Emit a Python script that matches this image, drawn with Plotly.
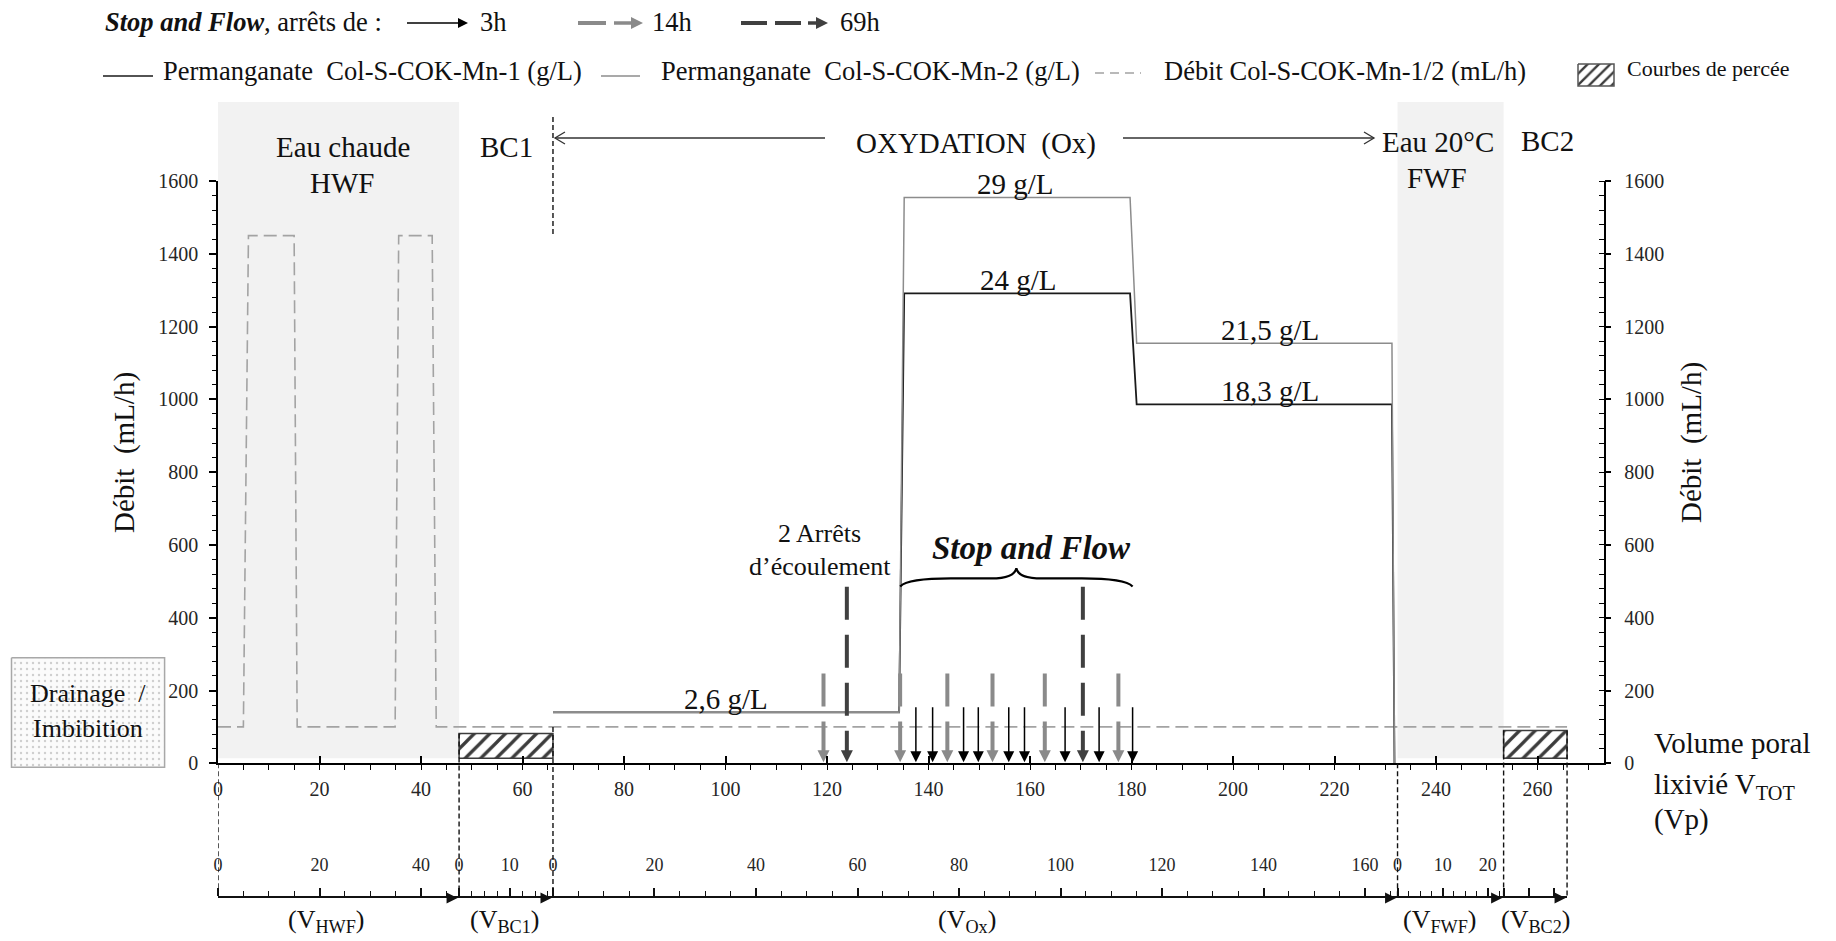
import plotly.graph_objects as go

W, H = 1836, 941
FONT = "Liberation Serif"
SP2 = "\u2002"   # wide space

# ---------------- data ----------------
phase_names = ["HWF", "BC1", "Ox", "FWF", "BC2"]
phase_bounds = [0.0, 47.5, 66.0, 232.4, 253.3, 265.8]      # V_TOT (Vp)
phase_axis_len = [47.5, 18.5, 166.4, 23.5, 12.5]            # length of each sub-axis (Vp)
phase_dtick = [20, 10, 20, 10, 5]
phase_minor = [5, 2.5, 5, 2.5, None]
phase_show_labels = [True, True, True, True, False]

flow_x = [0, 5.0, 6.0, 15.0, 15.6, 34.9, 35.6, 42.2, 43.0, 265.8]
flow_y = [100, 100, 1450, 1450, 100, 100, 1450, 1450, 100, 100]

mn1_x = [66.0, 134.2, 135.2, 179.7, 181.0, 231.3, 231.8]
mn1_y = [140, 140, 1291, 1291, 986, 986, 0]
mn2_x = [66.0, 134.2, 135.2, 179.7, 181.0, 231.3, 231.8]
mn2_y = [140, 140, 1555, 1555, 1154, 1154, 0]

conc_labels = ["2,6 g/L", "29 g/L", "24 g/L", "21,5 g/L", "18,3 g/L"]
conc_label_x = [100.1, 157.2, 157.7, 207.3, 207.3]
conc_label_y = [140, 1555, 1291, 1154, 986]

stops_3h = [137.5, 140.8, 146.9, 149.8, 155.8, 158.9, 166.9, 173.6, 180.2]
stops_14h = [119.3, 134.4, 143.7, 152.6, 162.9, 177.4]
stops_69h = [123.9, 170.4]

percee_bottom = 14
percee_top = [82, 90]          # BC1, BC2
shade_bottom = 14

# ---------------- geometry ----------------
X0_PX, X1_PX, XMAX = 218.0, 1603.6, 273.0
Y0_PX, Y1_PX, YMAX = 763.3, 181.0, 1600.0
KX = (X1_PX - X0_PX) / XMAX
KY = (Y0_PX - Y1_PX) / YMAX


def X(v):
    return X0_PX + v * KX


def Y(v):
    return Y0_PX - v * KY


def PX(px):
    return px / W


def PY(py):
    return (H - py) / H


fig = go.Figure()

# ---------------- shaded phases (HWF, FWF) ----------------
for i in (0, 3):
    fig.add_shape(type="rect", xref="x", yref="paper",
                  x0=phase_bounds[i], x1=phase_bounds[i + 1],
                  y0=PY(Y(shade_bottom)), y1=PY(102),
                  fillcolor="#f2f2f2", line_width=0, layer="below")

# ---------------- flow (dashed) ----------------
fig.add_trace(go.Scatter(x=flow_x, y=flow_y, mode="lines",
                         line=dict(color="#a3a3a3", width=1.6, dash="13px,6px"),
                         hoverinfo="skip", showlegend=False))

# ---------------- breakthrough (hatched) ----------------
for k, i in enumerate((1, 4)):
    a, b = phase_bounds[i], phase_bounds[i + 1]
    top = percee_top[k]
    fig.add_trace(go.Scatter(x=[a, b, b, a, a], y=[percee_bottom, percee_bottom, top, top, percee_bottom],
                             mode="lines", fill="toself", fillcolor="white",
                             fillpattern=dict(shape="/", fgcolor="#3c3c3c", bgcolor="white",
                                              size=11, solidity=0.3),
                             line=dict(color="#3c3c3c", width=1.5),
                             hoverinfo="skip", showlegend=False))

# ---------------- permanganate lines ----------------
fig.add_trace(go.Scatter(x=mn1_x, y=mn1_y, mode="lines",
                         line=dict(color="#1a1a1a", width=1.8), hoverinfo="skip", showlegend=False))
fig.add_trace(go.Scatter(x=mn2_x, y=mn2_y, mode="lines",
                         line=dict(color="#8c8c8c", width=1.5), hoverinfo="skip", showlegend=False))

# ---------------- stop arrows ----------------
def stop_arrows(xs, top, color, width, dash, hsize):
    shaft_end = (hsize - 2) / KY
    sx, sy = [], []
    for v in xs:
        sx += [v, v, None]
        sy += [top, shaft_end, None]
    fig.add_trace(go.Scatter(x=sx, y=sy, mode="lines",
                             line=dict(color=color, width=width, dash=dash),
                             hoverinfo="skip", showlegend=False))
    fig.add_trace(go.Scatter(x=xs, y=[1.0 / KY] * len(xs), mode="markers", cliponaxis=False,
                             marker=dict(symbol="arrow-down", size=hsize, color=color,
                                         line=dict(width=0)),
                             hoverinfo="skip", showlegend=False))


stop_arrows(stops_14h, 247, "#8a8a8a", 4, "33px,15px", 12)
stop_arrows(stops_69h, 485, "#404040", 4, "33px,15px", 12)
stop_arrows(stops_3h, 154, "#000000", 1.5, "solid", 11)

# ---------------- brace over Stop and Flow ----------------
b0, b1 = min(stops_14h[1:] + stops_3h), max(stops_3h)
bm = (b0 + b1) / 2
yb, yh, yp = 486, 508, 536
brace = (f"M {b0},{yb} Q {b0 + 1.5},{yh} {b0 + 10},{yh} L {bm - 5},{yh} "
         f"Q {bm - 0.4},{yh} {bm},{yp} Q {bm + 0.4},{yh} {bm + 5},{yh} "
         f"L {b1 - 10},{yh} Q {b1 - 1.5},{yh} {b1},{yb}")
fig.add_shape(type="path", xref="x", yref="y", path=brace,
              line=dict(color="black", width=2.2))

# ---------------- concentration labels ----------------
for s, xv, yv in zip(conc_labels, conc_label_x, conc_label_y):
    fig.add_annotation(x=xv, y=yv, xref="x", yref="y", text=s, showarrow=False,
                       yanchor="middle", yshift=13,
                       font=dict(family=FONT, size=29, color="#111"))

# ---------------- vertical dashed phase boundaries ----------------
line_start = [0, percee_top[0], 100, 0, percee_top[1], percee_top[1]]
for bx, st in zip(phase_bounds, line_start):
    fig.add_shape(type="line", xref="x", yref="paper", x0=bx, x1=bx,
                  y0=PY(Y(st)), y1=PY(898),
                  line=dict(color="#111", width=1.4, dash="5px,3px"))
# dashed line marking the start of oxidation (above the plot)
fig.add_shape(type="line", xref="x", yref="paper", x0=phase_bounds[2], x1=phase_bounds[2],
              y0=PY(234), y1=PY(117), line=dict(color="#111", width=1.4, dash="5px,3px"))

# ---------------- dummy traces for extra axes ----------------
fig.add_trace(go.Scatter(x=[None], y=[None], xaxis="x", yaxis="y2", showlegend=False, hoverinfo="skip"))
for j in range(5):
    fig.add_trace(go.Scatter(x=[None], y=[None], xaxis=f"x{j + 2}", yaxis="y3",
                             showlegend=False, hoverinfo="skip"))

# ---------------- overlay (pixel) subplot: legend, boxes, arrows ----------------
OX, OY = "x7", "y4"


def ov_trace(**kw):
    kw.setdefault("hoverinfo", "skip")
    kw.setdefault("showlegend", False)
    fig.add_trace(go.Scatter(xaxis=OX, yaxis=OY, **kw))


def txt(x, y, s, size=29, xanchor="center", **kw):
    fig.add_annotation(x=x, y=y, xref=OX, yref=OY, text=s, showarrow=False,
                       xanchor=xanchor, yanchor="middle",
                       font=dict(family=FONT, size=size, color="#111"), **kw)


def filled_arrow(x0, x1, y, color, width, hsize, dash="solid"):
    """horizontal arrow pointing right, tip at x1"""
    ov_trace(x=[x0, x1 - hsize + 2], y=[y, y], mode="lines",
             line=dict(color=color, width=width, dash=dash))
    ov_trace(x=[x1], y=[y], mode="markers",
             marker=dict(symbol="arrow-right", size=hsize, color=color, line=dict(width=0)))


def open_arrow(x0, x1, y, color="#333", width=1.3, hl=10, hw=6):
    d = 1 if x1 > x0 else -1
    ov_trace(x=[x0, x1, None, x1 - d * hl, x1, x1 - d * hl],
             y=[y, y, None, y - hw, y, y + hw], mode="lines",
             line=dict(color=color, width=width))


# Drainage / Imbibition box
ov_trace(x=[11.5, 164.6, 164.6, 11.5, 11.5], y=[657.7, 657.7, 767.3, 767.3, 657.7],
         mode="lines", fill="toself", fillcolor="#fbfbfb",
         fillpattern=dict(shape=".", fgcolor="#cfcfcf", bgcolor="#fbfbfb", size=6, solidity=0.12),
         line=dict(color="#a8a8a8", width=1.5))
txt(88, 693, "Drainage" + SP2 + "/", size=26)
txt(88, 728, "Imbibition", size=26)

# legend row 1
LEG = 26.5
txt(103, 22, "<b><i>Stop and Flow</i></b>, arrêts de :", size=LEG, xanchor="left")
filled_arrow(407, 468, 23, "#000", 1.3, 10)
txt(478, 22, "3h", size=LEG, xanchor="left")
ov_trace(x=[578, 606], y=[23, 23], mode="lines", line=dict(color="#8a8a8a", width=4))
filled_arrow(614, 643, 23, "#8a8a8a", 3.5, 12)
txt(650, 22, "14h", size=LEG, xanchor="left")
ov_trace(x=[741, 767, None, 775, 801], y=[23, 23, None, 23, 23], mode="lines",
         line=dict(color="#404040", width=4))
filled_arrow(808, 828, 23, "#404040", 3.5, 12)
txt(838, 22, "69h", size=LEG, xanchor="left")

# legend row 2
ov_trace(x=[103, 153], y=[76, 76], mode="lines", line=dict(color="#1a1a1a", width=1.6))
txt(161, 71, "Permanganate" + SP2 + "Col-S-COK-Mn-1 (g/L)", size=LEG, xanchor="left")
ov_trace(x=[601, 640], y=[76, 76], mode="lines", line=dict(color="#8c8c8c", width=1.4))
txt(659, 71, "Permanganate" + SP2 + "Col-S-COK-Mn-2 (g/L)", size=LEG, xanchor="left")
ov_trace(x=[1095, 1141], y=[73, 73], mode="lines", line=dict(color="#a3a3a3", width=1.5, dash="9px,6px"))
txt(1162, 71, "Débit Col-S-COK-Mn-1/2 (mL/h)", size=LEG, xanchor="left")
ov_trace(x=[1578, 1614, 1614, 1578, 1578], y=[64, 64, 86, 86, 64], mode="lines",
         fill="toself", fillcolor="white",
         fillpattern=dict(shape="/", fgcolor="#3c3c3c", bgcolor="white", size=8, solidity=0.3),
         line=dict(color="#555", width=1.5))
txt(1625, 68, "Courbes de percée", size=22, xanchor="left")

# phase titles
txt(343, 147, "Eau chaude")
txt(342, 183, "HWF")
txt(506, 147, "BC1")
txt(976, 143, "OXYDATION" + SP2 + "(Ox)")
open_arrow(825, X(phase_bounds[2]) + 2, 138)
open_arrow(1123, 1374, 138)
txt(1438, 142, "Eau 20°C")
txt(1437, 178, "FWF")
txt(1547, 141, "BC2")

# flow annotations
txt(819, 533, "2 Arrêts", size=26)
txt(820, 566, "d’écoulement", size=26)
txt(1031, 548, "<b><i>Stop and Flow</i></b>", size=33)

# axis titles
txt(124, 453, "Débit" + SP2 + "(mL/h)", size=29, textangle=-90)
txt(1691, 443, "Débit" + SP2 + "(mL/h)", size=29, textangle=-90)
txt(1652, 743, "Volume poral", size=29, xanchor="left")
txt(1652, 786, "lixivié V<sub>TOT</sub>", size=29, xanchor="left")
txt(1652, 819, "(Vp)", size=29, xanchor="left")

# sub-axis names
for s, cx in zip(["(V<sub>HWF</sub>)", "(V<sub>BC1</sub>)", "(V<sub>Ox</sub>)",
                  "(V<sub>FWF</sub>)", "(V<sub>BC2</sub>)"],
                 [326, 504, 967, 1440, 1535]):
    txt(cx, 921, s, size=26)

# arrowheads at the end of each sub-axis
tips = [X(phase_bounds[i + 1]) - 1.5 for i in range(5)]
ov_trace(x=tips, y=[898] * 5, mode="markers",
         marker=dict(symbol="arrow-right", size=11, color="#111", line=dict(width=0)))

# ---------------- layout ----------------
tickfont = dict(family=FONT, size=20, color="#262626")
layout = dict(
    template="none",
    width=W, height=H, autosize=False,
    margin=dict(l=0, r=0, t=0, b=0, pad=0, autoexpand=False),
    paper_bgcolor="white", plot_bgcolor="rgba(0,0,0,0)",
    showlegend=False,
    xaxis=dict(domain=[PX(X0_PX), PX(X1_PX)], range=[0, XMAX], anchor="y",
               showline=True, linecolor="black", linewidth=1.5,
               ticks="inside", ticklen=8, tickwidth=1.5, tickcolor="black",
               tickmode="linear", tick0=0, dtick=20,
               minor=dict(dtick=5, ticks="outside", ticklen=5, tickwidth=1, tickcolor="black"),
               showgrid=False, zeroline=False, tickfont=tickfont,
               ticklabelstandoff=7, automargin=False, fixedrange=True),
    yaxis=dict(domain=[PY(Y0_PX), PY(Y1_PX)], range=[0, YMAX], anchor="x",
               showline=True, linecolor="black", linewidth=1.5,
               ticks="outside", ticklen=7, tickwidth=1.5, tickcolor="black",
               tickmode="linear", tick0=0, dtick=200,
               minor=dict(dtick=40, ticks="outside", ticklen=4, tickwidth=1, tickcolor="black"),
               showgrid=False, zeroline=False, tickfont=tickfont,
               ticklabelstandoff=7, automargin=False, fixedrange=True),
    yaxis2=dict(overlaying="y", side="right", anchor="x", range=[0, YMAX],
                showline=True, linecolor="black", linewidth=1.5,
                ticks="outside", ticklen=6, tickwidth=1.5, tickcolor="black",
                tickmode="linear", tick0=0, dtick=200,
                minor=dict(dtick=40, ticks="inside", ticklen=5, tickwidth=1, tickcolor="black"),
                showgrid=False, zeroline=False, tickfont=tickfont,
                ticklabelstandoff=9, automargin=False, fixedrange=True),
    yaxis3=dict(domain=[PY(930), PY(898)], range=[0, 1], anchor="x2",
                visible=False, automargin=False, fixedrange=True),
    xaxis7=dict(domain=[0, 1], range=[0, W], anchor="y4", visible=False,
                automargin=False, fixedrange=True),
    yaxis4=dict(domain=[0, 1], range=[H, 0], anchor="x7", visible=False,
                automargin=False, fixedrange=True),
)
for j in range(5):
    a, b = phase_bounds[j], phase_bounds[j + 1]
    ax = dict(domain=[PX(X(a)), PX(X(b))], range=[0, phase_axis_len[j]], anchor="y3",
              side="top", showline=True, linecolor="#111", linewidth=1.5,
              ticks="outside", ticklen=8, tickwidth=1.5, tickcolor="#111",
              tickmode="linear", tick0=0, dtick=phase_dtick[j],
              showticklabels=phase_show_labels[j],
              tickfont=dict(family=FONT, size=18, color="#262626"),
              ticklabelstandoff=10, showgrid=False, zeroline=False,
              automargin=False, fixedrange=True)
    if phase_minor[j]:
        ax["minor"] = dict(dtick=phase_minor[j], ticks="outside", ticklen=5,
                           tickwidth=1, tickcolor="#111")
    layout[f"xaxis{j + 2}"] = ax

fig.update_layout(**layout)

fig.write_html("out.html", config={"displayModeBar": False},
               post_script="document.body.style.margin='0';document.body.style.overflow='hidden';")
